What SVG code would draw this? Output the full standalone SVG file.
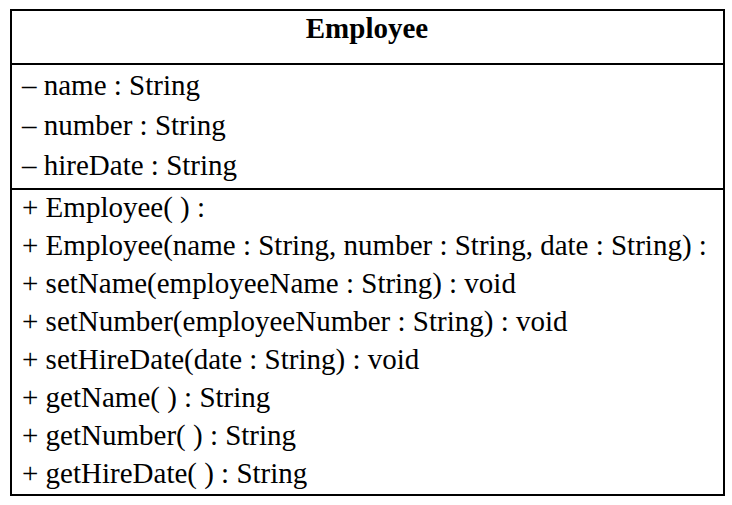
<svg xmlns="http://www.w3.org/2000/svg" width="732" height="505" viewBox="0 0 732 505">
<style>
text{font-family:"Liberation Serif","Times New Roman",serif;font-size:29px;fill:#000}
.t{font-weight:bold;text-anchor:middle}
.ln{stroke:#000;stroke-width:2}
</style>
<rect width="732" height="505" fill="#fff"/>
<g id="Employee">
<rect x="11" y="10" width="713" height="485" fill="#fff" class="ln"/>
<line x1="11" y1="64" x2="724" y2="64" class="ln"/>
<line x1="11" y1="189" x2="724" y2="189" class="ln"/>
<text class="t" x="367" y="38">Employee</text>
<text x="22" y="95">– name : String</text>
<text x="22" y="135">– number : String</text>
<text x="22" y="175">– hireDate : String</text>
<text x="22" y="217">+ Employee( ) :</text>
<text x="22" y="255">+ Employee(name : String, number : String, date : String) :</text>
<text x="22" y="293">+ setName(employeeName : String) : void</text>
<text x="22" y="331">+ setNumber(employeeNumber : String) : void</text>
<text x="22" y="369">+ setHireDate(date : String) : void</text>
<text x="22" y="407">+ getName( ) : String</text>
<text x="22" y="445">+ getNumber( ) : String</text>
<text x="22" y="483">+ getHireDate( ) : String</text>
</g>
<g id="connectors"/>
</svg>
